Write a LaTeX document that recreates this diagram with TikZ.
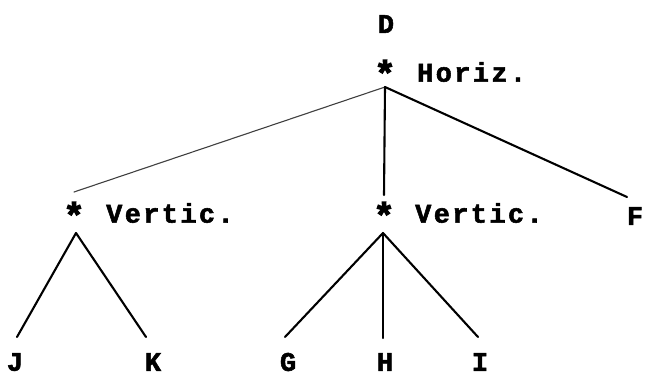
\documentclass[tikz,border=0pt]{standalone}
\usepackage{fontspec}
\newfontfamily\tw[LetterSpace=9,FakeBold=2]{Liberation Mono}
\newfontfamily\starfont[FakeBold=3]{Liberation Mono}
\begin{document}
\begin{tikzpicture}[x=1bp,y=-1bp,
  lbl/.style={font=\tw\bfseries\fontsize{27}{27}\selectfont, inner sep=0pt},
  starlbl/.style={font=\starfont\bfseries\fontsize{36}{36}\selectfont, inner sep=0pt},
  edge/.style={line width=2.1bp, line cap=round},
  faint/.style={line width=1.1bp, line cap=round, black!75}]
\useasboundingbox (0,0) rectangle (655,376);
% labels
\node[lbl] (D) at (386,24) {D};
\node[starlbl] (s0) at (385,73) {*};
\node[lbl, anchor=west] (hz) at (417,72) {Horiz.};
\node[starlbl] (s1) at (74,215) {*};
\node[lbl, anchor=west] (v1) at (106,213) {Vertic.};
\node[starlbl] (s2) at (384,215) {*};
\node[lbl, anchor=west] (v2) at (415,213) {Vertic.};
\node[lbl] (F) at (635,216) {F};
\node[lbl] (J) at (15,362) {J};
\node[lbl] (K) at (153,362) {K};
\node[lbl] (G) at (288,362) {G};
\node[lbl] (H) at (385,362) {H};
\node[lbl] (I) at (480,362) {I};
% connector points
\coordinate (a0) at (385,87);
\coordinate (c1) at (74,192);
\coordinate (c2) at (384,195);
\coordinate (c3) at (627,197);
\coordinate (a1) at (76,233);
\coordinate (a2) at (383,233);
\coordinate (ej) at (17,337);
\coordinate (ek) at (146,337);
\coordinate (eg) at (285,337);
\coordinate (eh) at (383,338);
\coordinate (ei) at (478,337);
% connectors
\draw[faint] (a0) -- (c1);
\draw[edge] (a0) -- (c2);
\draw[edge] (a0) -- (c3);
\draw[edge] (a1) -- (ej);
\draw[edge] (a1) -- (ek);
\draw[edge] (a2) -- (eg);
\draw[edge] (a2) -- (eh);
\draw[edge] (a2) -- (ei);
\end{tikzpicture}
\end{document}
